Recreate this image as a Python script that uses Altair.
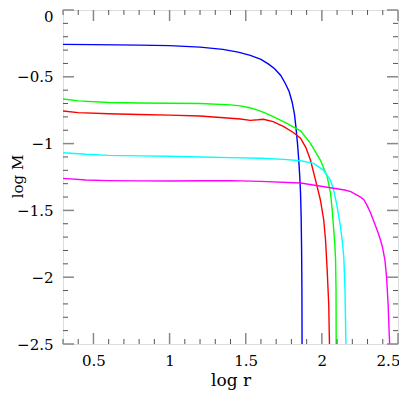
import altair as alt
import pandas as pd

# ---- data ----
blue_x = [0.3, 0.5, 0.8, 1.0, 1.2, 1.35, 1.45, 1.53, 1.6, 1.65, 1.69, 1.73, 1.76, 1.785, 1.805, 1.82, 1.83, 1.84, 1.848, 1.855, 1.86, 1.864, 1.867, 1.869, 1.87]
blue_y = [-0.257, -0.259, -0.263, -0.267, -0.278, -0.295, -0.315, -0.34, -0.37, -0.405, -0.44, -0.49, -0.55, -0.61, -0.69, -0.78, -0.88, -1.0, -1.12, -1.25, -1.37, -1.55, -1.8, -2.1, -2.5]

green_x = [0.3, 0.4, 0.6, 0.8, 1.0, 1.2, 1.4, 1.464, 1.52, 1.574, 1.63, 1.68, 1.77, 1.86, 1.925, 1.99, 2.035, 2.057, 2.068, 2.078, 2.085, 2.09, 2.093, 2.094]
green_y = [-0.666, -0.68, -0.692, -0.696, -0.698, -0.70, -0.71, -0.718, -0.73, -0.748, -0.772, -0.798, -0.848, -0.905, -0.998, -1.123, -1.248, -1.372, -1.497, -1.647, -1.75, -1.87, -2.1, -2.5]

red_x = [0.3, 0.4, 0.6, 0.8, 1.0, 1.2, 1.4, 1.464, 1.53, 1.58, 1.616, 1.68, 1.75, 1.81, 1.86, 1.895, 1.925, 1.958, 1.99, 2.012, 2.024, 2.035, 2.045, 2.05]
red_y = [-0.756, -0.768, -0.777, -0.782, -0.787, -0.793, -0.81, -0.816, -0.826, -0.822, -0.818, -0.836, -0.873, -0.915, -0.96, -1.03, -1.123, -1.272, -1.42, -1.57, -1.72, -1.95, -2.2, -2.5]

cyan_x = [0.3, 0.45, 0.6, 0.8, 1.0, 1.2, 1.4, 1.6, 1.75, 1.86, 1.947, 2.01, 2.057, 2.078, 2.1, 2.122, 2.133, 2.144, 2.152, 2.158]
cyan_y = [-1.068, -1.08, -1.088, -1.092, -1.095, -1.10, -1.105, -1.11, -1.118, -1.128, -1.148, -1.198, -1.275, -1.35, -1.47, -1.62, -1.72, -1.85, -2.1, -2.5]

magenta_x = [0.3, 0.45, 0.6, 0.8, 1.0, 1.2, 1.4, 1.6, 1.86, 2.057, 2.15, 2.19, 2.254, 2.276, 2.30, 2.32, 2.344, 2.364, 2.382, 2.397, 2.414, 2.425, 2.435, 2.445]
magenta_y = [-1.26, -1.272, -1.277, -1.279, -1.28, -1.278, -1.277, -1.283, -1.295, -1.33, -1.347, -1.36, -1.40, -1.42, -1.47, -1.52, -1.59, -1.65, -1.71, -1.77, -1.87, -2.0, -2.2, -2.5]

series_names = ["blue", "green", "red", "cyan", "magenta"]
series_colors = ["#0000ff", "#00ff00", "#ff0000", "#00ffff", "#ff00ff"]

x_major = [0.5, 1.0, 1.5, 2.0, 2.5]
x_minor = [0.3, 0.4, 0.6, 0.7, 0.8, 0.9, 1.1, 1.2, 1.3, 1.4, 1.6, 1.7, 1.8, 1.9, 2.1, 2.2, 2.3, 2.4]
y_major = [0.0, -0.5, -1.0, -1.5, -2.0, -2.5]
y_minor = [-0.1, -0.2, -0.3, -0.4, -0.6, -0.7, -0.8, -0.9, -1.1, -1.2, -1.3, -1.4,
           -1.6, -1.7, -1.8, -1.9, -2.1, -2.2, -2.3, -2.4]

# ---- build table ----
rows = []
for name, xs, ys in zip(series_names,
                        [blue_x, green_x, red_x, cyan_x, magenta_x],
                        [blue_y, green_y, red_y, cyan_y, magenta_y]):
    for i, (a, b) in enumerate(zip(xs, ys)):
        rows.append({"s": name, "i": i, "r": a, "m": b})
df = pd.DataFrame(rows)

W, H = 335, 334
FONT = "DejaVu Serif"

xscale = alt.Scale(domain=[0.3, 2.5], nice=False, zero=False)
yscale = alt.Scale(domain=[-2.5, 0], nice=False, zero=False)

lines = alt.Chart(df).mark_line(strokeWidth=1.4, clip=True).encode(
    x=alt.X("r:Q", scale=xscale, title="log r",
            axis=alt.Axis(values=x_major, format="~g", ticks=False, domain=False, grid=False,
                          labelFlush=False, labelOverlap=False,
                          labelOffset={"condition": {"test": "datum.value == 2.5", "value": -10}, "value": 0},
                          labelFont=FONT, labelFontSize=15, labelColor="#000", labelPadding=9,
                          titleFont=FONT, titleFontSize=17, titleFontWeight="normal",
                          titleColor="#000", titleX=W / 2, titleY=36,
                          titleBaseline="middle", titleAlign="center")),
    y=alt.Y("m:Q", scale=yscale, title="log M",
            axis=alt.Axis(values=y_major, format="~g", ticks=False, domain=False, grid=False,
                          labelFlush=False, labelOverlap=False,
                          labelOffset={"condition": {"test": "datum.value == 0", "value": 6}, "value": 0},
                          labelFont=FONT, labelFontSize=15, labelColor="#000", labelPadding=10,
                          titleFont=FONT, titleFontSize=15, titleFontWeight="normal",
                          titleColor="#000", titleX=-41, titleY=H / 2 - 1,
                          titleAngle=270, titleBaseline="alphabetic", titleAlign="center")),
    color=alt.Color("s:N", scale=alt.Scale(domain=series_names, range=series_colors), legend=None),
    order="i:Q",
)

xmaj = pd.DataFrame({"v": x_major})
xmin = pd.DataFrame({"v": x_minor})
ymaj = pd.DataFrame({"v": y_major})
ymin = pd.DataFrame({"v": y_minor})

MAJ, MIN = 11, 5
tick_layers = []
for data, ln, col, sw in [(xmaj, MAJ, "#888888", 1.5), (xmin, MIN, "#555555", 1)]:
    tick_layers.append(alt.Chart(data).mark_rule(color=col, strokeWidth=sw).encode(
        x=alt.X("v:Q", scale=xscale), y=alt.value(H), y2=alt.value(H - ln)))
    tick_layers.append(alt.Chart(data).mark_rule(color=col, strokeWidth=sw).encode(
        x=alt.X("v:Q", scale=xscale), y=alt.value(0), y2=alt.value(ln)))
for data, ln, col, sw in [(ymaj, MAJ, "#888888", 1.5), (ymin, MIN, "#555555", 1)]:
    tick_layers.append(alt.Chart(data).mark_rule(color=col, strokeWidth=sw).encode(
        y=alt.Y("v:Q", scale=yscale), x=alt.value(0), x2=alt.value(ln)))
    tick_layers.append(alt.Chart(data).mark_rule(color=col, strokeWidth=sw).encode(
        y=alt.Y("v:Q", scale=yscale), x=alt.value(W), x2=alt.value(W - ln)))

chart = alt.layer(lines, *tick_layers).properties(
    width=W, height=H,
    autosize=alt.AutoSizeParams(type="none"),
    padding={"left": 55, "top": 2, "right": 1, "bottom": 46},
).configure_view(stroke="#888888", strokeWidth=2).configure(background="white")

chart.save("out.html", embed_options={"renderer": "svg", "actions": False})
